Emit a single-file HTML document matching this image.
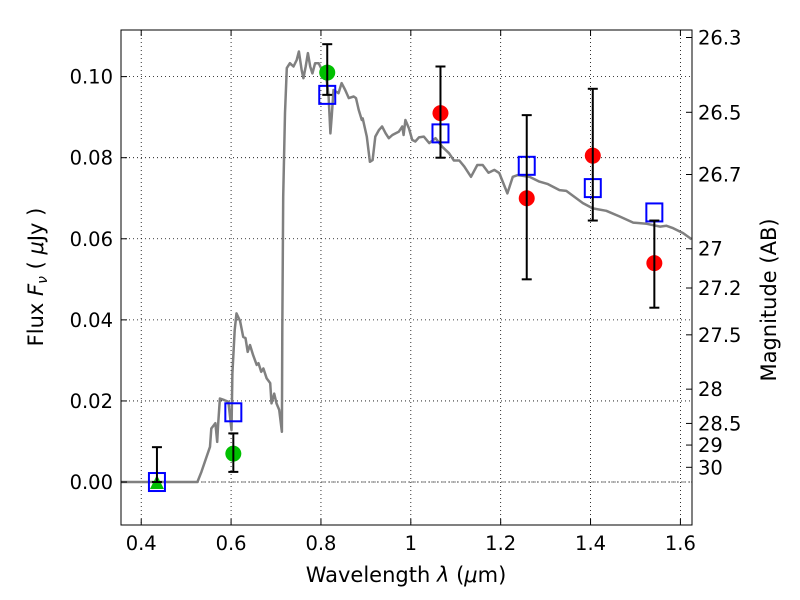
<!DOCTYPE html>
<html><head><meta charset="utf-8"><style>
body{margin:0;background:#fff;}
svg{display:block;font-family:"DejaVu Sans","Liberation Sans",sans-serif;}
</style></head><body>
<svg id="chart" width="800" height="600" xmlns="http://www.w3.org/2000/svg"></svg>
<script>
const modelLambda=[0.35,0.525,0.534,0.553,0.556,0.565,0.569,0.571,0.575,0.585,0.594,0.601,0.603,0.608,0.612,0.620,0.627,0.632,0.637,0.642,0.649,0.657,0.661,0.667,0.672,0.679,0.687,0.690,0.696,0.701,0.707,0.713,0.714,0.716,0.720,0.724,0.731,0.739,0.746,0.751,0.757,0.761,0.766,0.771,0.776,0.781,0.787,0.795,0.802,0.811,0.817,0.821,0.824,0.828,0.839,0.846,0.854,0.862,0.873,0.878,0.884,0.891,0.893,0.902,0.909,0.915,0.921,0.929,0.936,0.944,0.951,0.959,0.966,0.973,0.981,0.984,0.988,0.996,1.003,1.010,1.018,1.029,1.041,1.055,1.070,1.085,1.096,1.108,1.119,1.134,1.148,1.160,1.173,1.186,1.197,1.215,1.227,1.238,1.264,1.286,1.305,1.331,1.346,1.383,1.405,1.435,1.465,1.495,1.525,1.555,1.569,1.584,1.606,1.625];
const modelFlux=[0,0,0.0025,0.0087,0.0132,0.0145,0.0099,0.0141,0.0206,0.0202,0.0198,0.0128,0.0268,0.0375,0.0416,0.0397,0.0358,0.0355,0.0321,0.0338,0.0313,0.0289,0.0293,0.0272,0.0280,0.0256,0.0244,0.0194,0.0218,0.0194,0.0178,0.0124,0.0375,0.0704,0.0910,0.1021,0.1033,0.1025,0.1041,0.1062,0.1017,0.0996,0.1025,0.1058,0.1025,0.1008,0.1033,0.1033,0.1017,0.1008,0.0951,0.0860,0.0901,0.0967,0.0959,0.0984,0.0967,0.0947,0.0951,0.0947,0.0918,0.0893,0.0897,0.0852,0.0790,0.0794,0.0852,0.0868,0.0877,0.0860,0.0848,0.0856,0.0860,0.0864,0.0877,0.0856,0.0893,0.0872,0.0844,0.0840,0.0850,0.0852,0.0836,0.0848,0.0827,0.0811,0.0793,0.0793,0.0778,0.0753,0.0782,0.0782,0.0763,0.0770,0.0762,0.0712,0.0753,0.0757,0.0753,0.0741,0.0735,0.0720,0.0718,0.0688,0.0675,0.0669,0.0655,0.0640,0.0637,0.0630,0.0632,0.0626,0.0614,0.0599];
const squareLambda=[0.435,0.605,0.814,1.066,1.258,1.405,1.542];
const squareFlux=[0.0,0.0172,0.0955,0.086,0.078,0.0725,0.0665];
const greenLambda=[0.605,0.814];
const greenFlux=[0.007,0.101];
const greenLo=[0.0025,0.0955];
const greenHi=[0.012,0.108];
const triLambda=[0.435];
const triFlux=[0.0];
const triHi=[0.0086];
const redLambda=[1.066,1.258,1.405,1.542];
const redFlux=[0.091,0.070,0.0805,0.054];
const redLo=[0.080,0.050,0.0645,0.043];
const redHi=[0.1025,0.0905,0.097,0.0645];
const xTicks=[0.4,0.6,0.8,1,1.2,1.4,1.6];
const xTickLabels=["0.4","0.6","0.8","1","1.2","1.4","1.6"];
const yTicks=[0,0.02,0.04,0.06,0.08,0.10];
const yTickLabels=["0.00","0.02","0.04","0.06","0.08","0.10"];
const magTicks=[26.3,26.5,26.7,27,27.2,27.5,28,28.5,29,30];

const L=121,R=692,T=30,B=525;
const X0=0.355,X1=1.6258,Y0=-0.0106,Y1=0.1115;
const sx=v=>L+(v-X0)/(X1-X0)*(R-L);
const sy=v=>B-(v-Y0)/(Y1-Y0)*(B-T);
const svg=document.getElementById('chart');
const NS='http://www.w3.org/2000/svg';
function mk(tag,attrs,parent){const e=document.createElementNS(NS,tag);for(const k in attrs)e.setAttribute(k,attrs[k]);(parent||svg).appendChild(e);return e;}

const clip=mk('clipPath',{id:'pc'});mk('rect',{x:L,y:T,width:R-L,height:B-T},clip);

xTicks.forEach((t,i)=>{
  const g=mk('line',{x1:sx(t),x2:sx(t),y1:T,y2:B,stroke:'#000','stroke-width':0.8,'stroke-dasharray':'1,3'});
  
  
});
yTicks.forEach((t,i)=>{
  const g=mk('line',{x1:L,x2:R,y1:sy(t),y2:sy(t),stroke:'#000','stroke-width':0.8,'stroke-dasharray':'1,3'});
  
  
});
const zl=mk('line',{x1:L,x2:R,y1:sy(0),y2:sy(0),stroke:'#555','stroke-width':0.8,'stroke-dasharray':'5,2,1,2'});



const pts=modelLambda.map((l,i)=>sx(l).toFixed(1)+','+sy(modelFlux[i]).toFixed(1)).join(' ');
const ml=mk('polyline',{points:pts,fill:'none',stroke:'#808080','stroke-width':2.5,'stroke-linejoin':'round','clip-path':'url(#pc)'});



squareLambda.forEach((l,i)=>{
  const r=mk('rect',{x:sx(l)-8,y:sy(squareFlux[i])-9,width:16,height:18,fill:'none',stroke:'#0000ff','stroke-width':2});
  
  
});
function errbar(x,lo,hi,name){
  const g=mk('g',{stroke:'#000','stroke-width':2});
  
  
  mk('line',{x1:x,x2:x,y1:sy(lo),y2:sy(hi)},g);
  mk('line',{x1:x-5,x2:x+5,y1:sy(lo),y2:sy(lo)},g);
  mk('line',{x1:x-5,x2:x+5,y1:sy(hi),y2:sy(hi)},g);
}
triLambda.forEach((l,i)=>{
  const x=sx(l),y=sy(triFlux[i]);
  const p=mk('polygon',{points:`${x-7},${y+7} ${x+7},${y+7} ${x},${y-7}`,fill:'#00c000','clip-path':'url(#pc)'});
  
  
  errbar(x,triFlux[i],triHi[i],'triangle-error-bar');
});
greenLambda.forEach((l,i)=>{
  const c=mk('circle',{cx:sx(l),cy:sy(greenFlux[i]),r:8,fill:'#00c000'});
  
  
  errbar(sx(l),greenLo[i],greenHi[i],'green-error-bar');
});
redLambda.forEach((l,i)=>{
  const c=mk('circle',{cx:sx(l),cy:sy(redFlux[i]),r:8,fill:'#ff0000'});
  
  
  errbar(sx(l),redLo[i],redHi[i],'red-error-bar');
});

const fr=mk('rect',{x:L,y:T,width:R-L,height:B-T,fill:'none',stroke:'#000','stroke-width':1});



xTicks.forEach((t,i)=>{
  const x=sx(t);
  mk('line',{x1:x,x2:x,y1:B,y2:B-6,stroke:'#000'});
  mk('line',{x1:x,x2:x,y1:T,y2:T+6,stroke:'#000'});
  const tx=mk('text',{x:x,y:B+25,'text-anchor':'middle','font-size':19.5});
  tx.textContent=xTickLabels[i];
  
  
});
yTicks.forEach((t,i)=>{
  const y=sy(t);
  mk('line',{x1:L,x2:L+6,y1:y,y2:y,stroke:'#000'});
  const tx=mk('text',{x:L-8,y:y+7,'text-anchor':'end','font-size':19.5});
  tx.textContent=yTickLabels[i];
  
  
});
magTicks.forEach((m,i)=>{
  const y=sy(Math.pow(10,(23.9-m)/2.5));
  mk('line',{x1:R,x2:R-6,y1:y,y2:y,stroke:'#000'});
  const tx=mk('text',{x:R+6,y:y+7,'text-anchor':'start','font-size':19.5});
  tx.textContent=String(m);
  
  
});
</script>
<svg style="position:absolute;left:0;top:0" width="800" height="600" xmlns="http://www.w3.org/2000/svg" font-family="DejaVu Sans, Liberation Sans, sans-serif">
<text x="406" y="582" text-anchor="middle" font-size="21">Wavelength  <tspan font-style="italic">λ</tspan> (<tspan font-style="italic">μ</tspan>m)</text>
<text transform="translate(43,277) rotate(-90)" text-anchor="middle" font-size="21">Flux  <tspan font-style="italic">F</tspan><tspan font-style="italic" font-size="14" dy="4">ν</tspan><tspan dy="-4">  (  </tspan><tspan font-style="italic">μ</tspan>Jy )</text>
<text transform="translate(776,300) rotate(-90)" text-anchor="middle" font-size="21">Magnitude (AB)</text>
</svg>
</body></html>
